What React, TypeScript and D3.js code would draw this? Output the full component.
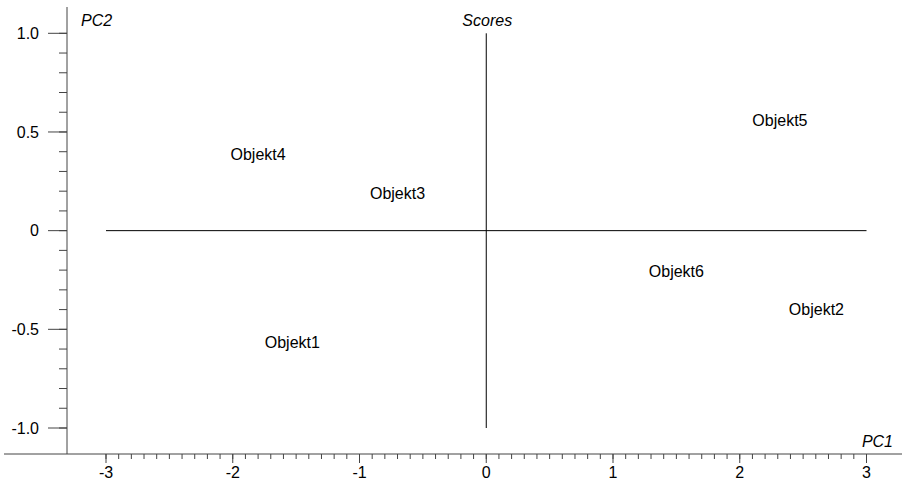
import React from "react";
import * as d3 from "d3";

const names = ["Objekt1", "Objekt2", "Objekt3", "Objekt4", "Objekt5", "Objekt6"];
const pc1 = [-1.53, 2.605, -0.70, -1.80, 2.317, 1.50];
const pc2 = [-0.572, -0.405, 0.187, 0.381, 0.555, -0.211];
const xTicks = [-3, -2, -1, 0, 1, 2, 3];
const yTicks = [-1, -0.5, 0, 0.5, 1];
const yTickLabels = ["-1.0", "-0.5", "0", "0.5", "1.0"];

const W = 902;
const H = 481;
const FONT = "'Liberation Sans', Arial, Helvetica, sans-serif";

export default function App() {
  const x = d3.scaleLinear().domain([-3, 3]).range([106, 866.5]);
  const y = d3.scaleLinear().domain([-1, 1]).range([428, 33.3]);
  const axisX = 67;
  const axisY = 454;
  const xMinor = d3.range(-30, 31).map((v) => v / 10);
  const yMinor = d3.range(-10, 11).map((v) => v / 10);
  const axisColor = "#444";

  return (
    <svg
      width={W}
      height={H}
      style={{ position: "absolute", left: 0, top: 0, background: "#fff" }}
      fontFamily={FONT}
    >
      {/* Y axis */}
      <line x1={axisX} x2={axisX} y1={7} y2={axisY} stroke={axisColor} strokeWidth={1} />
      {yMinor.map((v, i) => (
        <line key={"ym" + i} x1={axisX - 8} x2={axisX} y1={y(v)} y2={y(v)} stroke={axisColor} strokeWidth={1} />
      ))}
      {yTicks.map((v, i) => (
        <g key={"yt" + i}>
          <line x1={axisX - 19} x2={axisX} y1={y(v)} y2={y(v)} stroke={axisColor} strokeWidth={1} />
          <text x={39} y={y(v)} dy="0.35em" textAnchor="end" fontSize={16} fill="#000">
            {yTickLabels[i]}
          </text>
        </g>
      ))}
      {/* X axis */}
      <line x1={4} x2={W} y1={axisY} y2={axisY} stroke={axisColor} strokeWidth={1} />
      {xMinor.map((v, i) => (
        <line key={"xm" + i} x1={x(v)} x2={x(v)} y1={axisY} y2={axisY + 5} stroke={axisColor} strokeWidth={1} />
      ))}
      {xTicks.map((v, i) => (
        <g key={"xt" + i}>
          <line x1={x(v)} x2={x(v)} y1={axisY} y2={axisY + 9} stroke={axisColor} strokeWidth={1} />
          <text x={x(v)} y={478} textAnchor="middle" fontSize={16} fill="#000">
            {String(v)}
          </text>
        </g>
      ))}
      {/* Crosshair */}
      <line x1={x(-3)} x2={x(3)} y1={y(0)} y2={y(0)} stroke="#000" strokeWidth={1} />
      <line x1={x(0)} x2={x(0)} y1={y(1)} y2={y(-1)} stroke="#000" strokeWidth={1} />
      {/* Titles */}
      <text x={x(0) + 1} y={26} textAnchor="middle" fontSize={16} fontStyle="italic" fill="#000">
        Scores
      </text>
      <text x={81} y={26} fontSize={16} fontStyle="italic" fill="#000">
        PC2
      </text>
      <text x={893} y={447} textAnchor="end" fontSize={16} fontStyle="italic" fill="#000">
        PC1
      </text>
      {/* Object labels */}
      {names.map((n, i) => (
        <text key={n} x={x(pc1[i])} y={y(pc2[i])} dy="0.3em" textAnchor="middle" fontSize={16} fill="#000">
          {n}
        </text>
      ))}
    </svg>
  );
}
